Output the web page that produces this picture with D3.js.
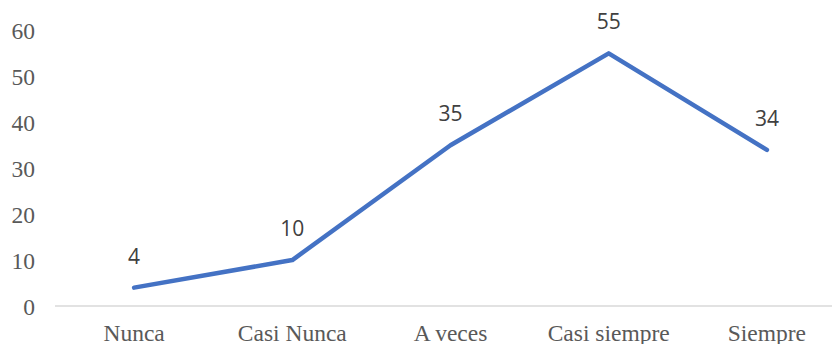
<!DOCTYPE html>
<html><head><meta charset="utf-8">
<script src="https://cdn.jsdelivr.net/npm/d3@7"></script>
<style>body{margin:0;background:#fff}svg{display:block}</style>
</head><body>
<script>
const categories = ["Nunca", "Casi Nunca", "A veces", "Casi siempre", "Siempre"];
const values = [4, 10, 35, 55, 34];
const yTicks = [0, 10, 20, 30, 40, 50, 60];

const W = 832, H = 344;
const svg = d3.select("body").append("svg").attr("width", W).attr("height", H);

const x = d3.scaleBand().domain(categories).range([55, 846]);
const y = d3.scaleLinear().domain([0, 60]).range([306, 30.4]);

// x axis baseline
svg.append("line")
  .attr("x1", 55).attr("x2", 846)
  .attr("y1", y(0)).attr("y2", y(0))
  .attr("stroke", "#d9d9d9").attr("stroke-width", 1.5);

// y tick labels
svg.append("g").selectAll("text").data(yTicks).join("text")
  .attr("x", 35).attr("y", d => y(d) + 8.5)
  .attr("text-anchor", "end")
  .attr("font-family", "'Liberation Serif', 'Times New Roman', serif")
  .attr("font-size", 23.5).attr("fill", "#595959")
  .text(d => d);

// x tick labels
svg.append("g").selectAll("text").data(categories).join("text")
  .attr("x", d => x(d) + x.bandwidth() / 2).attr("y", 341)
  .attr("text-anchor", "middle")
  .attr("font-family", "'Liberation Serif', 'Times New Roman', serif")
  .attr("font-size", 23.5).attr("fill", "#595959")
  .text(d => d);

const pts = categories.map((c, i) => [x(c) + x.bandwidth() / 2, y(values[i])]);

svg.append("path")
  .attr("d", d3.line()(pts))
  .attr("fill", "none").attr("stroke", "#4472C4")
  .attr("stroke-width", 4.5).attr("stroke-linejoin", "round").attr("stroke-linecap", "round");

svg.append("g").selectAll("text").data(values).join("text")
  .attr("x", (d, i) => pts[i][0]).attr("y", (d, i) => pts[i][1] - 24)
  .attr("text-anchor", "middle")
  .attr("font-family", "'Open Sans', 'Noto Sans', sans-serif")
  .attr("font-size", 21).attr("fill", "#404040")
  .text(d => d);
</script>
</body></html>
